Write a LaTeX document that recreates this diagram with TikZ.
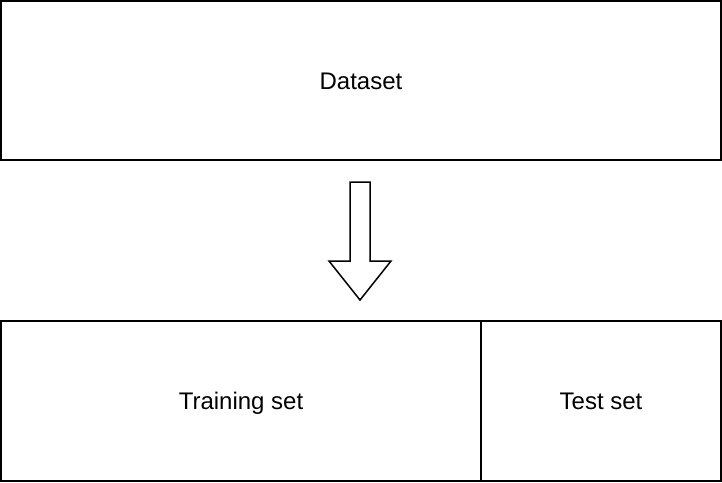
\documentclass[tikz,border=0pt]{standalone}
\usepackage{fontspec}
\setmainfont{Liberation Sans}
\begin{document}
\begin{tikzpicture}[x=1pt,y=-1pt,
  box/.style={draw=black,line width=1.5pt,fill=white,font=\fontsize{24}{28}\selectfont,text height=17pt,text depth=0pt},
  bigarrow/.style={draw=black,line width=1.5pt,fill=white,line join=miter}]
\useasboundingbox (0,0) rectangle (722,482);
\node[box,minimum width=720pt,minimum height=159pt] (dataset) at (361,80.5) {Dataset};
\node[box,minimum width=480pt,minimum height=160pt] (train) at (241,401) {Training set};
\node[box,minimum width=240pt,minimum height=160pt] (test) at (601,401) {Test set};
\coordinate (tip) at (360,300);
\draw[bigarrow] (350,182) -- (370,182) -- (370,261) -- (391,261) -- (tip) -- (329,261) -- (350,261) -- cycle;
\end{tikzpicture}
\end{document}
